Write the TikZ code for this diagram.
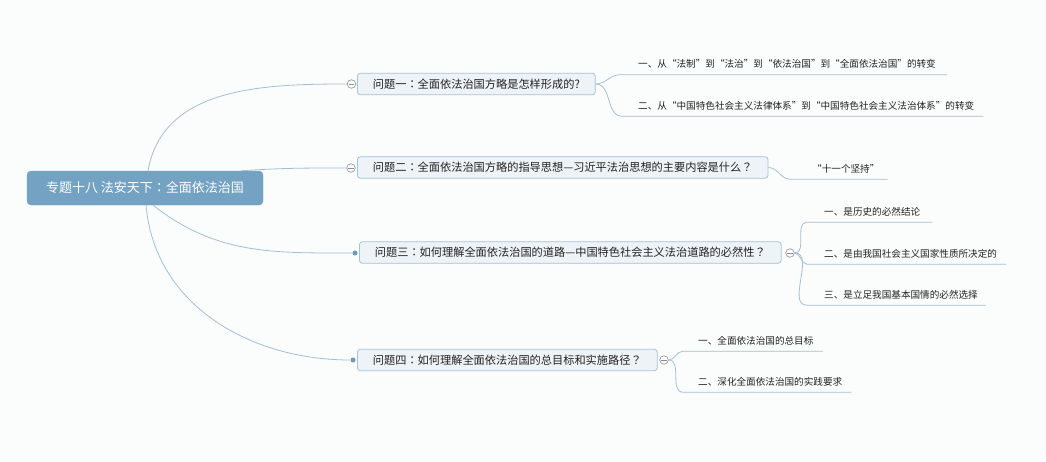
\documentclass[tikz,border=0pt]{standalone}
\usepackage{fontspec}
\newfontfamily\cjk{Noto Sans CJK SC}
\newfontfamily\cjktc{Noto Sans CJK TC}
\newcommand{\cpunct}[1]{{\cjktc #1}}
\usetikzlibrary{calc}
\definecolor{bg}{HTML}{FBFCFC}
\definecolor{rootblue}{HTML}{74A2C2}
\definecolor{qfill}{HTML}{EEF3F7}
\definecolor{qborder}{HTML}{A6C2D8}
\definecolor{linkc}{HTML}{A3BFD5}
\definecolor{dotblue}{HTML}{6F9BBD}
\definecolor{txt}{HTML}{222222}
\tikzset{
  rootbox/.style={draw=rootblue, fill=rootblue, rounded corners=4pt, text=white,
    font=\cjk\fontsize{13}{15}\selectfont, minimum width=236pt, minimum height=34pt, inner sep=0pt},
  qbox/.style={draw=qborder, fill=qfill, rounded corners=3pt, line width=0.8pt, text=txt,
    font=\cjk\fontsize{11.2}{13}\selectfont, minimum height=21.5pt, inner xsep=15.5pt, inner ysep=0pt, anchor=west},
  leaf/.style={font=\cjk\fontsize{9.6}{11}\selectfont, text=txt, inner sep=0pt, minimum height=21pt, anchor=west},
  link/.style={draw=linkc, line width=0.8pt},
  fold/.style={circle, draw=black!40, fill=white, line width=0.7pt, minimum size=8.5pt, inner sep=0pt,
    path picture={\draw[black!45, line width=0.7pt] ([xshift=-2.6pt]path picture bounding box.center) -- ([xshift=2.6pt]path picture bounding box.center);}},
  knob/.style={circle, fill=dotblue, minimum size=5pt, inner sep=0pt}
}
\begin{document}
\begin{tikzpicture}[x=1pt,y=-1pt]
\fill[bg] (0,0) rectangle (1046,461);
\useasboundingbox (0,0) rectangle (1046,461);

% root
\node[rootbox] (root) at (145,188) {专题十八 法安天下\cpunct{：}全面依法治国};

% questions
\node[qbox] (q1) at (357,84) {问题一\cpunct{：}全面依法治国方略是怎样形成的?};
\node[qbox] (q2) at (357,167.5) {问题二\cpunct{：}全面依法治国方略的指导思想—习近平法治思想的主要内容是什么\cpunct{？}};
\node[qbox] (q3) at (359,252.5) {问题三\cpunct{：}如何理解全面依法治国的道路—中国特色社会主义法治道路的必然性\cpunct{？}};
\node[qbox] (q4) at (357,360) {问题四\cpunct{：}如何理解全面依法治国的总目标和实施路径\cpunct{？}};

% fold / dot markers
\node[fold] (f1) at (351.5,84) {};
\node[fold] (f2) at (351,168) {};
\node[knob] (k3) at (355,253) {};
\node[knob] (k4) at (353,360) {};
\node[fold] (f3) at (790,253) {};
\node[fold] (f4) at (664,360) {};

% leaves
\node[leaf] (a1) at (638,64) {一、从“法制”到“法治”到“依法治国”到“全面依法治国”的转变};
\node[leaf] (a2) at (638,105.5) {二、从“中国特色社会主义法律体系”到“中国特色社会主义法治体系”的转变};
\node[leaf] (b1) at (812,168.5) {“十一个坚持”};
\node[leaf] (c1) at (824,211.5) {一、是历史的必然结论};
\node[leaf] (c2) at (824,253.5) {二、是由我国社会主义国家性质所决定的};
\node[leaf] (c3) at (824,294.5) {三、是立足我国基本国情的必然选择};
\node[leaf] (d1) at (698,340.5) {一、全面依法治国的总目标};
\node[leaf] (d2) at (698,381.5) {二、深化全面依法治国的实践要求};

% root connectors
\draw[link] ($(root.north)+(3,0)$) to[out=80,in=180] (f1.west);
\draw[link] ($(root.north east)+(-22,0)$) to[out=4,in=180] (f2.west);
\draw[link] ($(root.south)+(8,0)$) to[out=-38,in=180] (k3.west);
\draw[link] ($(root.south)+(1,0)$) to[out=-85,in=180] (k4.west);

% leaf connectors
\draw[link] (q1.east) to[out=0,in=180] ([xshift=-18pt]a1.south west) -- ([xshift=11pt]a1.south east);
\draw[link] (q1.east) to[out=0,in=180] ([xshift=-16pt]a2.south west) -- ([xshift=9pt]a2.south east);
\draw[link] (q2.east) to[out=0,in=180] ([xshift=-22pt]b1.south west) -- ([xshift=8pt]b1.south east);
\draw[link] (f3.east) to[out=0,in=180] ([xshift=-17pt]c1.south west) -- ([xshift=12pt]c1.south east);
\draw[link] (f3.east) to[out=0,in=180] ([xshift=-17pt]c2.south west) -- ([xshift=9pt]c2.south east);
\draw[link] (f3.east) to[out=0,in=180] ([xshift=-17pt]c3.south west) -- ([xshift=8pt]c3.south east);
\draw[link] (f4.east) to[out=0,in=180] ([xshift=-15pt]d1.south west) -- ([xshift=9pt]d1.south east);
\draw[link] (f4.east) to[out=0,in=180] ([xshift=-15pt]d2.south west) -- ([xshift=9pt]d2.south east);
\end{tikzpicture}
\end{document}
